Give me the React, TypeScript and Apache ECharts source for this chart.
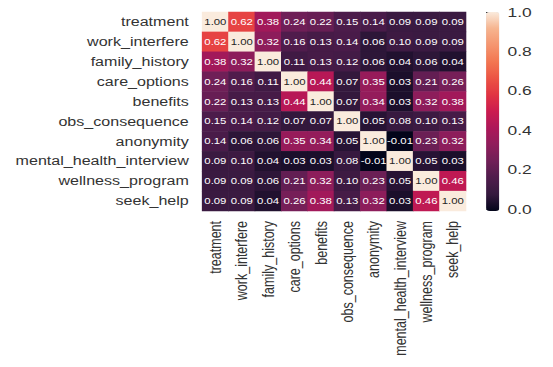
import React, { useEffect, useRef } from "react";
import * as echarts from "echarts";

const categories = [
  "treatment",
  "work_interfere",
  "family_history",
  "care_options",
  "benefits",
  "obs_consequence",
  "anonymity",
  "mental_health_interview",
  "wellness_program",
  "seek_help",
];

const treatment = [1.0, 0.62, 0.38, 0.24, 0.22, 0.15, 0.14, 0.09, 0.09, 0.09];
const workInterfere = [0.62, 1.0, 0.32, 0.16, 0.13, 0.14, 0.06, 0.1, 0.09, 0.09];
const familyHistory = [0.38, 0.32, 1.0, 0.11, 0.13, 0.12, 0.06, 0.04, 0.06, 0.04];
const careOptions = [0.24, 0.16, 0.11, 1.0, 0.44, 0.07, 0.35, 0.03, 0.21, 0.26];
const benefits = [0.22, 0.13, 0.13, 0.44, 1.0, 0.07, 0.34, 0.03, 0.32, 0.38];
const obsConsequence = [0.15, 0.14, 0.12, 0.07, 0.07, 1.0, 0.05, 0.08, 0.1, 0.13];
const anonymity = [0.14, 0.06, 0.06, 0.35, 0.34, 0.05, 1.0, -0.01, 0.23, 0.32];
const mentalHealthInterview = [0.09, 0.1, 0.04, 0.03, 0.03, 0.08, -0.01, 1.0, 0.05, 0.03];
const wellnessProgram = [0.09, 0.09, 0.06, 0.21, 0.32, 0.1, 0.23, 0.05, 1.0, 0.46];
const seekHelp = [0.09, 0.09, 0.04, 0.26, 0.38, 0.13, 0.32, 0.03, 0.46, 1.0];

const rows = [
  treatment,
  workInterfere,
  familyHistory,
  careOptions,
  benefits,
  obsConsequence,
  anonymity,
  mentalHealthInterview,
  wellnessProgram,
  seekHelp,
];

const colorbarTicks = [0, 0.2, 0.4, 0.6, 0.8, 1.0];
const colorMin = -0.01;
const colorMax = 1.0;

const rocket = [
  "#03051a",
  "#35193e",
  "#4f1c4c",
  "#701f57",
  "#8f1d5b",
  "#ad1759",
  "#cb1b4f",
  "#e13342",
  "#ec5444",
  "#f37651",
  "#f5956f",
  "#f6b48f",
  "#faebdd",
];

const FONT = "'Liberation Sans', Arial, sans-serif";
const INNER_W = 413;
const H = 367;

export default function App() {
  const ref = useRef<HTMLDivElement>(null);
  useEffect(() => {
    if (!ref.current) return;
    const chart = echarts.init(ref.current, undefined, { renderer: "svg" });
    const data: any[] = [];
    rows.forEach((row, yi) => {
      row.forEach((v, xi) => {
        data.push({
          value: [xi, yi, v],
          label: { color: v > 0.7 ? "#262626" : "#ffffff" },
        });
      });
    });
    chart.setOption({
      animation: false,
      backgroundColor: "#ffffff",
      grid: [
        { left: 151, top: 12, width: 197, height: 199 },
        { left: 363, top: 12, width: 10, height: 199 },
      ],
      xAxis: [
        {
          type: "category",
          data: categories,
          gridIndex: 0,
          axisLine: { show: false },
          axisTick: { show: false },
          splitLine: { show: false },
          axisLabel: {
            rotate: 90,
            interval: 0,
            margin: 10,
            fontSize: 12.5,
            color: "#333333",
            fontFamily: FONT,
          },
        },
        {
          type: "value",
          gridIndex: 1,
          show: false,
          min: 0,
          max: 1,
        },
      ],
      yAxis: [
        {
          type: "category",
          data: categories,
          inverse: true,
          gridIndex: 0,
          axisLine: { show: false },
          axisTick: { show: false },
          splitLine: { show: false },
          axisLabel: {
            interval: 0,
            margin: 10,
            fontSize: 12,
            color: "#333333",
            fontFamily: FONT,
          },
        },
        {
          type: "value",
          gridIndex: 1,
          position: "right",
          min: colorMin,
          max: colorMax,
          axisLine: { show: false },
          splitLine: { show: false },
          axisTick: {
            show: true,
            length: 4,
            customValues: colorbarTicks,
            lineStyle: { color: "#333333", width: 1 },
          },
          axisLabel: {
            margin: 6,
            fontSize: 13,
            color: "#333333",
            fontFamily: FONT,
            customValues: colorbarTicks,
            formatter: (v: number) => v.toFixed(1),
          },
        },
      ],
      visualMap: {
        type: "continuous",
        min: colorMin,
        max: colorMax,
        seriesIndex: 0,
        calculable: false,
        hoverLink: false,
        left: 363,
        top: 12,
        padding: 0,
        itemWidth: 10,
        itemHeight: 199,
        text: null,
        showLabel: false,
        inRange: { color: rocket },
      },
      series: [
        {
          type: "heatmap",
          xAxisIndex: 0,
          yAxisIndex: 0,
          data,
          label: {
            show: true,
            fontSize: 8.5,
            fontFamily: FONT,
            formatter: (p: any) => p.value[2].toFixed(2),
          },
          itemStyle: { borderWidth: 0 },
          emphasis: { disabled: true },
        },
        {
          type: "scatter",
          xAxisIndex: 1,
          yAxisIndex: 1,
          data: [],
          silent: true,
        },
      ],
    });
    return () => chart.dispose();
  }, []);
  return (
    <div
      style={{
        position: "fixed",
        left: 0,
        top: 0,
        width: INNER_W,
        height: H,
        transform: `scaleX(${553 / INNER_W})`,
        transformOrigin: "0 0",
        background: "#ffffff",
      }}
    >
      <div ref={ref} style={{ width: INNER_W, height: H }} />
    </div>
  );
}
